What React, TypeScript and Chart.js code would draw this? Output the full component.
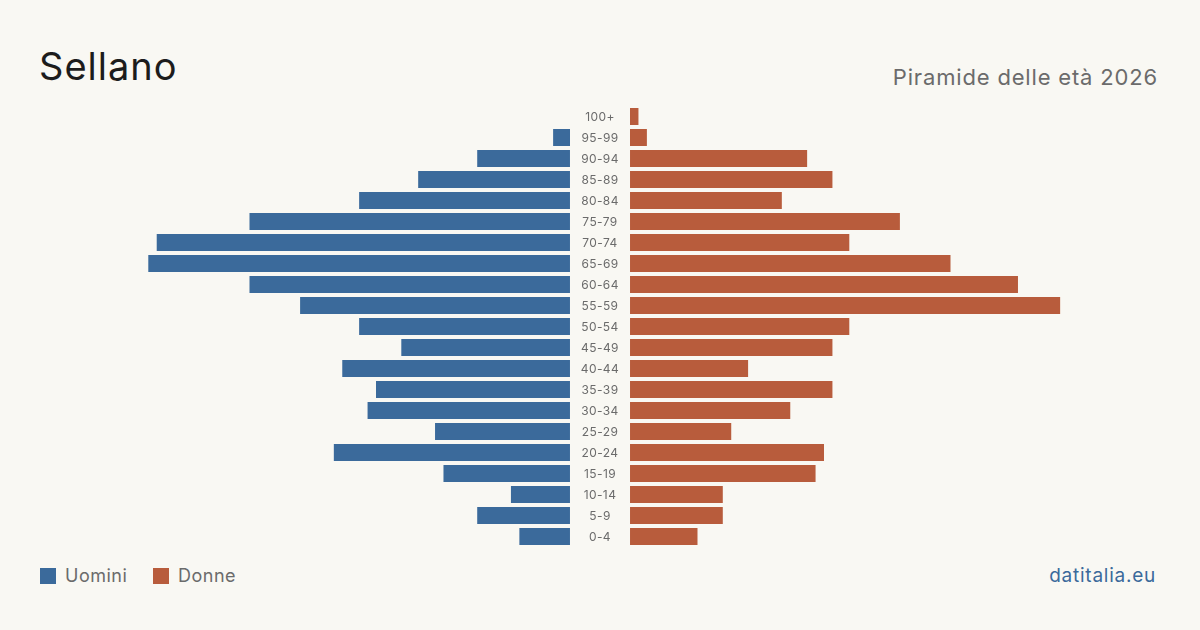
import React, { useEffect, useRef } from "react";
import { Chart, registerables } from "chart.js";

Chart.register(...registerables);

// Age classes, oldest first (top of the pyramid)
const ageGroups = [
  "100+", "95-99", "90-94", "85-89", "80-84", "75-79", "70-74", "65-69",
  "60-64", "55-59", "50-54", "45-49", "40-44", "35-39", "30-34", "25-29",
  "20-24", "15-19", "10-14", "5-9", "0-4",
];

// Residents per age class
const men = [0, 2, 11, 18, 25, 38, 49, 50, 38, 32, 25, 20, 27, 23, 24, 16, 28, 15, 7, 11, 6];
const women = [1, 2, 21, 24, 18, 32, 26, 38, 46, 51, 26, 24, 14, 24, 19, 12, 23, 22, 11, 11, 8];

const BLUE = "#3b6a9b";
const ORANGE = "#b85c3c";
const BG = "#f9f8f3";

// Half-width of the axis in data units and the empty band around zero for labels
const HALF_RANGE = 66.4;
const GAP = 3.56;

const centerLabels = {
  id: "centerLabels",
  afterDatasetsDraw(chart: any) {
    const { ctx, scales } = chart;
    const x = scales.x.getPixelForValue(0);
    ctx.save();
    ctx.font = "12px Inter, 'Noto Sans', sans-serif";
    (ctx as any).letterSpacing = "0.4px";
    ctx.fillStyle = "#6b6b6b";
    ctx.textAlign = "center";
    ctx.textBaseline = "middle";
    ageGroups.forEach((g, i) => {
      ctx.fillText(g, x, scales.y.getPixelForValue(i) + 0.5);
    });
    ctx.restore();
  },
};

function Pyramid() {
  const ref = useRef<HTMLCanvasElement>(null);
  useEffect(() => {
    if (!ref.current) return;
    const chart = new Chart(ref.current, {
      type: "bar",
      data: {
        labels: ageGroups,
        datasets: [
          {
            label: "Uomini",
            data: men.map((v) => (v > 0 ? [-GAP - v, -GAP] : null)) as any,
            backgroundColor: BLUE,
            grouped: false,
            barPercentage: 0.81,
            categoryPercentage: 1,
          },
          {
            label: "Donne",
            data: women.map((v) => (v > 0 ? [GAP, GAP + v] : null)) as any,
            backgroundColor: ORANGE,
            grouped: false,
            barPercentage: 0.81,
            categoryPercentage: 1,
          },
        ],
      },
      options: {
        indexAxis: "y",
        animation: false,
        responsive: false,
        maintainAspectRatio: false,
        layout: { padding: 0 },
        plugins: { legend: { display: false }, tooltip: { enabled: false } },
        scales: {
          x: { display: false, min: -HALF_RANGE, max: HALF_RANGE },
          y: { display: false },
        },
      },
      plugins: [centerLabels],
    });
    return () => chart.destroy();
  }, []);
  return (
    <canvas
      ref={ref}
      width={1120}
      height={441}
      style={{ position: "absolute", left: 40, top: 105.5, width: 1120, height: 441 }}
    />
  );
}

export default function App() {
  const font = "Inter, 'Noto Sans', sans-serif";
  return (
    <div
      style={{
        position: "fixed",
        left: 0,
        top: 0,
        width: 1200,
        height: 630,
        background: BG,
        fontFamily: font,
        overflow: "hidden",
      }}
    >
      <div style={{ position: "absolute", left: 39, top: 47, fontSize: 38, lineHeight: 1, letterSpacing: 1, color: "#1c1c1c" }}>
        Sellano
      </div>
      <div
        style={{ position: "absolute", right: 42, top: 66, fontSize: 22, lineHeight: 1, letterSpacing: 0.83, color: "#6b6b6b", whiteSpace: "nowrap" }}
      >
        Piramide delle età 2026
      </div>
      <Pyramid />
      <div style={{ position: "absolute", left: 40, top: 568, width: 16, height: 16, background: BLUE }} />
      <div style={{ position: "absolute", left: 65, top: 566.5, fontSize: 18, lineHeight: 1, letterSpacing: 0.5, color: "#6b6b6b" }}>
        Uomini
      </div>
      <div style={{ position: "absolute", left: 153, top: 568, width: 16, height: 16, background: ORANGE }} />
      <div style={{ position: "absolute", left: 178, top: 566.5, fontSize: 18, lineHeight: 1, letterSpacing: 0.5, color: "#6b6b6b" }}>
        Donne
      </div>
      <div style={{ position: "absolute", right: 44, top: 565.5, fontSize: 19, lineHeight: 1, letterSpacing: 0.75, color: BLUE }}>
        datitalia.eu
      </div>
    </div>
  );
}
